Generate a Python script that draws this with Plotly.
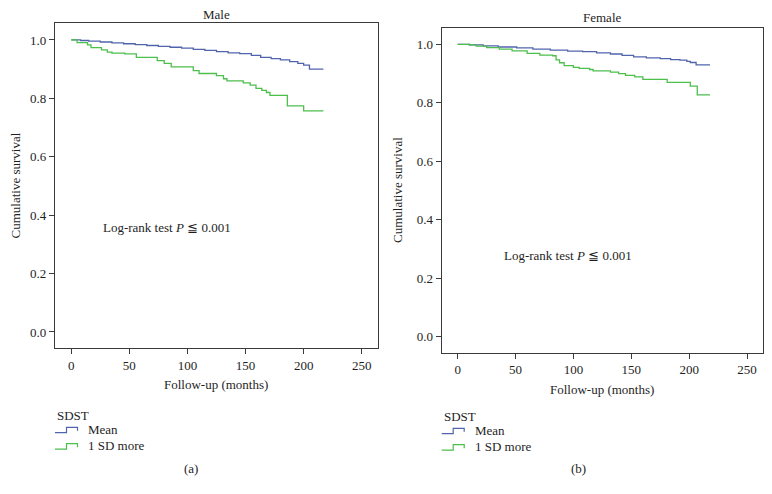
import plotly.graph_objects as go

# (months, cumulative survival)
male_mean_x = [0, 8, 15, 25, 35, 45, 55, 65, 75, 85, 95, 105, 115, 125, 135, 145,
               155, 163, 172, 180, 188, 195, 200, 205, 217]
male_mean_y = [1.000, 0.998, 0.996, 0.993, 0.990, 0.987, 0.984, 0.981, 0.978, 0.975,
               0.972, 0.968, 0.964, 0.960, 0.956, 0.953, 0.947, 0.940, 0.936, 0.932,
               0.926, 0.920, 0.914, 0.900, 0.900]

male_sd_x = [0, 5, 14, 17, 26, 31, 35, 46, 56, 74, 80, 86, 105, 110, 125, 131, 134,
             148, 154, 159, 164, 168, 171, 186, 200, 217]
male_sd_y = [1.000, 0.991, 0.983, 0.974, 0.966, 0.958, 0.955, 0.952, 0.940, 0.929,
             0.920, 0.908, 0.895, 0.885, 0.878, 0.867, 0.860, 0.853, 0.845, 0.834,
             0.827, 0.820, 0.810, 0.774, 0.757, 0.757]

female_mean_x = [0, 10, 22, 35, 51, 65, 80, 95, 108, 120, 132, 142, 152, 163, 175,
                 184, 192, 198, 201, 206, 218]
female_mean_y = [1.000, 0.998, 0.995, 0.991, 0.988, 0.984, 0.980, 0.977, 0.975, 0.971,
                 0.967, 0.962, 0.957, 0.954, 0.951, 0.948, 0.946, 0.942, 0.938, 0.930,
                 0.930]

female_sd_x = [0, 10, 16, 25, 36, 47, 60, 71, 82, 85, 88, 92, 100, 105, 114, 117, 132,
               139, 145, 153, 160, 181, 201, 207, 218]
female_sd_y = [1.000, 0.998, 0.994, 0.989, 0.984, 0.978, 0.969, 0.963, 0.961, 0.947,
               0.937, 0.927, 0.921, 0.918, 0.914, 0.909, 0.905, 0.900, 0.894, 0.889,
               0.880, 0.870, 0.857, 0.827, 0.827]

group_names = ["Mean", "1 SD more"]
panel_titles = ["Male", "Female"]
x_ticks = [0, 50, 100, 150, 200, 250]
y_ticks = [0.0, 0.2, 0.4, 0.6, 0.8, 1.0]

BLUE = "#5064ac"
GREEN = "#4cbf4c"
AXC = "#3a3a3a"
TXT = "#1e1e1e"
FONT = "Liberation Serif"
W, H = 772, 494


def px(x):
    return x / W


def py(y):
    return 1 - y / H


fig = go.Figure()

curves = [
    (male_mean_x, male_mean_y, BLUE, "x", "y"),
    (male_sd_x, male_sd_y, GREEN, "x", "y"),
    (female_mean_x, female_mean_y, BLUE, "x2", "y2"),
    (female_sd_x, female_sd_y, GREEN, "x2", "y2"),
]
for i, (xs, ys, col, xa, ya) in enumerate(curves):
    fig.add_trace(go.Scatter(
        x=xs, y=ys, mode="lines", line=dict(color=col, width=1.3, shape="hv"),
        name=group_names[i % 2], xaxis=xa, yaxis=ya, showlegend=False,
    ))

axis_style = dict(
    showline=True, mirror=True, linecolor=AXC, linewidth=1.3,
    ticks="outside", ticklen=5, tickwidth=1.2, tickcolor=AXC,
    showgrid=False, zeroline=False,
    tickfont=dict(family=FONT, size=13, color=TXT),
)

fig.update_layout(
    width=W, height=H,
    margin=dict(l=0, r=0, t=0, b=0),
    paper_bgcolor="white", plot_bgcolor="white",
    showlegend=False,
    xaxis=dict(domain=[px(55), px(378)], range=[-14, 264], tickvals=x_ticks,
               anchor="y", **axis_style),
    yaxis=dict(domain=[py(348), py(23)], range=[-0.055, 1.058], tickvals=y_ticks,
               tickformat=".1f", anchor="x", **axis_style),
    xaxis2=dict(domain=[px(441.7), px(763)], range=[-13.8, 263.8], tickvals=x_ticks,
                anchor="y2", **axis_style),
    yaxis2=dict(domain=[py(352.7), py(27.7)], range=[-0.055, 1.057], tickvals=y_ticks,
                tickformat=".1f", anchor="x2", **axis_style),
)


def text(s, x, y, size=13, xanchor="center", angle=0, xref="paper", yref="paper"):
    fig.add_annotation(text=s, x=x, y=y, xref=xref, yref=yref, showarrow=False,
                       xanchor=xanchor, yanchor="middle", textangle=angle,
                       font=dict(family=FONT, size=size, color=TXT))


# panel titles, axis titles, captions
text(panel_titles[0], px(216.5), py(14))
text(panel_titles[1], px(602), py(17.7))
text("Cumulative survival", px(15), py(185.5), angle=-90)
text("Cumulative survival", px(398), py(190), angle=-90)
text("Follow-up (months)", px(216), py(384))
text("Follow-up (months)", px(602), py(389))
text("(a)", px(191), py(468))
text("(b)", px(578), py(468))

# log-rank annotations (data coordinates)
text("Log-rank test <i>P</i> \u2266 0.001", 82.4, 0.356, xref="x", yref="y")
text("Log-rank test <i>P</i> \u2266 0.001", 95.3, 0.279, xref="x2", yref="y2")

# hand-made step legends
for x0, ytop in [(55, 415), (441.7, 416)]:
    text("SDST", px(x0), py(ytop), xanchor="left")
    for k, (name, col) in enumerate(zip(group_names, [BLUE, GREEN])):
        yc = ytop + 14.3 + k * 16.4
        text(name, px(x0 + 31), py(yc), xanchor="left")
        base, top = yc + 3.4, yc - 2
        path = (f"M {px(x0)},{py(base)} L {px(x0 + 11.5)},{py(base)} "
                f"L {px(x0 + 11.5)},{py(top)} L {px(x0 + 22.5)},{py(top)} "
                f"L {px(x0 + 22.5)},{py(yc + 1.5)}")
        fig.add_shape(type="path", path=path, xref="paper", yref="paper",
                      line=dict(color=col, width=1.2))

# the page's default 8px body margin would push the figure off its place
fig.write_html("out.html", config={"displayModeBar": False},
               post_script="document.body.style.margin='0';")
